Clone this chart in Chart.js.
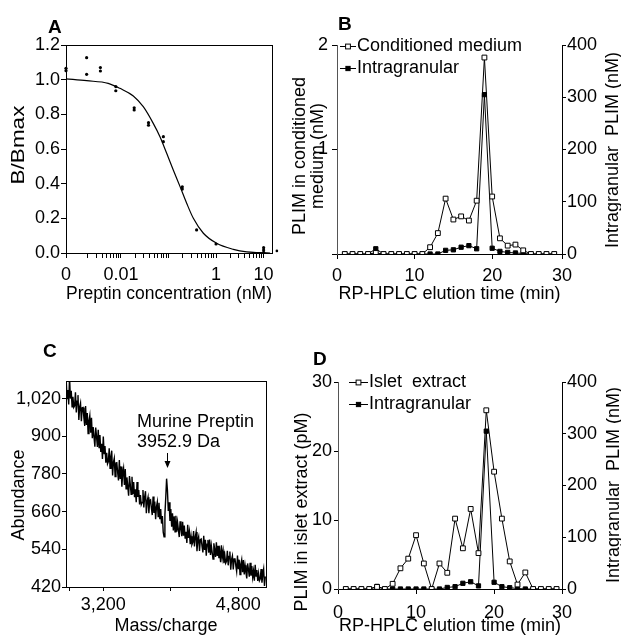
<!DOCTYPE html>
<html>
<head>
<meta charset="utf-8">
<script src="https://cdn.jsdelivr.net/npm/chart.js@4.4.1/dist/chart.umd.min.js"></script>
<style>
  body { margin: 0; background: #fff; }
  #wrap { position: relative; width: 621px; height: 637px; overflow: hidden; font-family: "Liberation Sans", Arial, sans-serif; }
  canvas { position: absolute; }
  .letter { position: absolute; font-weight: bold; font-size: 19px; line-height: 19px; }
</style>
</head>
<body>
<div id="wrap">
  <canvas id="chartA" width="290" height="305" style="left:0;top:0"></canvas>
  <canvas id="chartB" width="333" height="305" style="left:288px;top:0"></canvas>
  <canvas id="chartC" width="290" height="337" style="left:0;top:300px"></canvas>
  <canvas id="chartD" width="333" height="337" style="left:288px;top:300px"></canvas>
  <div class="letter" style="left:48px;top:17px">A</div>
  <div class="letter" style="left:338px;top:14px">B</div>
  <div class="letter" style="left:43px;top:341px">C</div>
  <div class="letter" style="left:313px;top:349px">D</div>
</div>
<script>
// ---- panel A: binding competition ----
const A_CONC = [0.0007, 0.0007, 0.0019, 0.0019, 0.0037, 0.0037, 0.0078, 0.0078, 0.019, 0.019,
  0.038, 0.038, 0.078, 0.078, 0.195, 0.195, 0.39, 1, 10, 10, 10, 19];
const A_BOUND = [1.066, 1.052, 1.127, 1.031, 1.07, 1.05, 0.96, 0.936, 0.838, 0.825,
  0.752, 0.737, 0.671, 0.642, 0.382, 0.369, 0.133, 0.052, 0.031, 0.017, 0.004, 0.012];
const A_FIT_CONC = [0.0007, 0.0019, 0.0054, 0.0095, 0.0182, 0.0295, 0.0478, 0.0662, 0.0916,
  0.126, 0.175, 0.241, 0.333, 0.541, 1.03, 2.31, 4.43, 8.43, 13.7];
const A_FIT_BOUND = [1.005, 0.994, 0.979, 0.95, 0.906, 0.844, 0.748, 0.671, 0.575,
  0.479, 0.383, 0.287, 0.2, 0.114, 0.056, 0.021, 0.006, 0.002, 0.0];
const A_X_TICKS = [0.0007, 0.002, 0.003, 0.004, 0.005, 0.006, 0.007, 0.008, 0.009,
  0.01, 0.02, 0.03, 0.04, 0.05, 0.06, 0.07, 0.08, 0.09,
  0.1, 0.2, 0.3, 0.4, 0.5, 0.6, 0.7, 0.8, 0.9,
  1, 2, 3, 4, 5, 6, 7, 8, 9, 10];
const A_X_LABEL_AT = [0.0007, 0.01, 1, 10];
const A_X_LABEL_TEXT = ['0', '0.01', '1', '10'];
const A_Y_TICKS = [0, 0.2, 0.4, 0.6, 0.8, 1.0, 1.2];

// ---- panel B: conditioned medium HPLC ----
const B_TIME = [1, 2, 3, 4, 5, 6, 7, 8, 9, 10, 11, 12, 13, 14, 15, 16, 17, 18, 19, 20,
  21, 22, 23, 24, 25, 26, 27, 28];
const B_MEDIUM = [0, 0, 0, 0, 0.01, 0, 0, 0, 0, 0, 0, 0.065, 0.2, 0.53, 0.33, 0.36, 0.32, 0.51, 1.88, 0.55,
  0.15, 0.08, 0.09, 0.035, 0, 0, 0, 0];
const B_INTRA = [0, 0, 0, 0, 10, 0, 0, 0, 0, 0, 0, 0, 0, 7, 8, 13, 16, 10, 305, 11,
  5, 3, 2, 1, 0, 0, 0, 0];
const B_X_TICKS = [0, 10, 20, 29];
const B_X_LABELS = ['0', '10', '20', '30'];
const B_Y_TICKS = [0, 1, 2];
const B_Y_LABELS = ['', '1', '2'];
const B_Y2_TICKS = [0, 100, 200, 300, 400];

// ---- panel C: mass spectrum (one value per 10 m/z) ----
const MZ_START = 2760;
const MZ_STEP = 10;
const C_ABUNDANCE = [
  1085, 1020, 1047, 1001, 1090, 1020, 1045, 994, 1026, 992,
  997, 1040, 976, 1012, 1031, 952, 994, 1006, 948, 991,
  992, 959, 933, 996, 936, 974, 909, 950, 966, 911,
  959, 894, 929, 898, 867, 928, 899, 866, 921, 864,
  904, 850, 876, 828, 899, 845, 869, 816, 847, 812,
  819, 862, 798, 835, 854, 775, 817, 830, 772, 815,
  816, 785, 759, 824, 764, 804, 739, 782, 798, 745,
  796, 733, 769, 740, 711, 773, 746, 715, 771, 716,
  754, 706, 731, 690, 754, 707, 729, 683, 713, 682,
  689, 729, 673, 706, 725, 655, 694, 706, 655, 696,
  698, 671, 649, 708, 656, 692, 636, 675, 691, 644,
  688, 636, 668, 622, 646, 595, 580, 650, 705, 765,
  728, 662, 690, 630, 668, 612, 655, 600, 645, 596,
  647, 596, 626, 602, 579, 629, 607, 582, 628, 583,
  616, 574, 596, 560, 618, 576, 596, 556, 582, 555,
  562, 598, 549, 579, 595, 534, 569, 580, 535, 571,
  573, 550, 530, 583, 538, 570, 520, 556, 570, 529,
  571, 522, 552, 530, 509, 559, 539, 516, 562, 519,
  551, 512, 533, 499, 553, 514, 534, 496, 521, 496,
  502, 535, 489, 517, 533, 475, 508, 519, 476, 509,
  511, 488, 470, 520, 477, 507, 460, 493, 507, 467,
  506, 460, 489, 467, 447, 495, 476, 453, 497, 456,
  487, 451, 471, 440, 491, 455, 474, 439, 463, 440,
  446, 477, 434, 461, 477, 423, 454];
const C_X_TICKS = [2800, 3200, 4000, 4800];
const C_X_LABELS = ['', '3,200', '', '4,800'];
const C_Y_TICKS = [420, 540, 660, 780, 900, 1020];
const C_PEAK_MZ = 3952.9;
const C_PEAK_TEXT = ['Murine Preptin', '3952.9 Da'];

// ---- panel D: islet extract HPLC ----
const D_TIME = [1, 2, 3, 4, 5, 6, 7, 8, 9, 10, 11, 12, 13, 14, 15, 16, 17, 18, 19, 20,
  21, 22, 23, 24, 25, 26, 27, 28];
const D_ISLET = [0, 0, 0, 0, 0.3, 0, 0.75, 3.0, 4.4, 7.8, 3.7, 0, 3.7, 2.35, 10.2, 5.9, 11.6, 5.2, 25.9, 17.0,
  10.2, 4.0, 0.65, 2.4, 0, 0, 0, 0];
const D_INTRA = [0, 0, 0, 0, 5, 0, 0, 0, 0, 0, 0, 0, 0, 3, 4.5, 11, 14, 6, 305, 13,
  4.5, 2.5, 1, 0, 0, 0, 0, 0];
const D_X_TICKS = [0, 10, 20, 28.7];
const D_X_LABELS = ['0', '10', '20', '30'];
const D_Y_TICKS = [0, 10, 20, 30];
const D_Y2_TICKS = [0, 100, 200, 300, 400];

const FONT = "'Liberation Sans', Arial, Helvetica, sans-serif";
Chart.defaults.font.family = FONT;
Chart.defaults.font.size = 18;
Chart.defaults.color = '#000';

const pts = (xs, ys) => xs.map((x, i) => ({ x: x, y: ys[i] }));
const fixTicks = list => scale => { scale.ticks = list.map(v => ({ value: v })); };
const tickGrid = len => ({ drawOnChartArea: false, drawTicks: true, tickLength: len, color: '#000', lineWidth: 1 });

// box around plot area
const frame = {
  id: 'frame',
  afterDatasetsDraw(chart) {
    const { ctx, chartArea: a } = chart;
    ctx.save();
    ctx.strokeStyle = '#000';
    ctx.lineWidth = 1;
    ctx.strokeRect(Math.round(a.left) + 0.5, Math.round(a.top) + 0.5,
      Math.round(a.right - a.left), Math.round(a.bottom - a.top));
    ctx.restore();
  }
};

// chart.js skips points past the axis end, the reference shows one there
const strayPoints = {
  id: 'strayPoints',
  afterDatasetsDraw(chart, args, opts) {
    const { ctx, chartArea: a } = chart;
    const meta = chart.getDatasetMeta(opts.dataset);
    ctx.save();
    ctx.fillStyle = '#000';
    meta.data.forEach(p => {
      if (p.x > a.right + 2) {
        ctx.beginPath();
        ctx.arc(p.x, p.y, opts.radius, 0, 2 * Math.PI);
        ctx.fill();
      }
    });
    ctx.restore();
  }
};

// vertical axis titles, read bottom to top
const sideTitles = {
  id: 'sideTitles',
  afterDraw(chart, args, opts) {
    const { ctx, chartArea: a } = chart;
    (opts.items || []).forEach(t => {
      ctx.save();
      ctx.font = (t.size || 18) + 'px ' + FONT;
      ctx.fillStyle = '#000';
      ctx.translate(t.x, t.y != null ? t.y : (a.top + a.bottom) / 2);
      ctx.rotate(-Math.PI / 2);
      if (t.stretch) ctx.scale(t.stretch, 1);
      ctx.textAlign = 'center';
      ctx.textBaseline = 'middle';
      ctx.fillText(t.text, 0, 0);
      ctx.restore();
    });
  }
};

// legend drawn as -[]- marker + label inside the plot
const lineLegend = {
  id: 'lineLegend',
  afterDraw(chart, args, opts) {
    const ctx = chart.ctx;
    chart.data.datasets.forEach((ds, i) => {
      const y = opts.y + i * opts.gap;
      const x = opts.x;
      ctx.save();
      ctx.strokeStyle = '#000';
      ctx.lineWidth = 1;
      ctx.beginPath();
      ctx.moveTo(x, y + 0.5);
      ctx.lineTo(x + opts.len, y + 0.5);
      ctx.stroke();
      const s = ds.pointRadius * Math.SQRT1_2;
      const cx = x + opts.len / 2;
      ctx.fillStyle = ds.pointBackgroundColor;
      ctx.fillRect(cx - s, y + 0.5 - s, 2 * s, 2 * s);
      ctx.strokeRect(cx - s, y + 0.5 - s, 2 * s, 2 * s);
      ctx.fillStyle = '#000';
      ctx.font = '18px ' + FONT;
      ctx.textBaseline = 'middle';
      ctx.textAlign = 'left';
      ctx.fillText(ds.label, x + opts.len + 1, y);
      ctx.restore();
    });
  }
};

// arrow and label over the preptin peak
const peakNote = {
  id: 'peakNote',
  afterDraw(chart, args, opts) {
    const ctx = chart.ctx;
    const px = Math.round(chart.scales.x.getPixelForValue(opts.mz)) + 0.5;
    ctx.save();
    ctx.fillStyle = '#000';
    ctx.strokeStyle = '#000';
    ctx.font = '18px ' + FONT;
    ctx.textBaseline = 'middle';
    opts.lines.forEach((t, i) => ctx.fillText(t, opts.textX, opts.textY + i * 20));
    ctx.lineWidth = 1;
    ctx.beginPath();
    ctx.moveTo(px, opts.arrowTop);
    ctx.lineTo(px, opts.arrowBottom - 5);
    ctx.stroke();
    ctx.beginPath();
    ctx.moveTo(px - 3, opts.arrowBottom - 7);
    ctx.lineTo(px + 3, opts.arrowBottom - 7);
    ctx.lineTo(px, opts.arrowBottom);
    ctx.closePath();
    ctx.fill();
    ctx.restore();
  }
};

const noHover = { legend: { display: false }, tooltip: { enabled: false } };

// ---------- A ----------
new Chart(document.getElementById('chartA'), {
  type: 'scatter',
  data: {
    datasets: [
      { label: 'fit', data: pts(A_FIT_CONC, A_FIT_BOUND), showLine: true, borderColor: '#000',
        borderWidth: 1.2, pointRadius: 0, cubicInterpolationMode: 'monotone' },
      { label: 'B/Bmax', data: pts(A_CONC, A_BOUND), pointRadius: 1.6, backgroundColor: '#000',
        borderColor: '#000', borderWidth: 0, clip: false }
    ]
  },
  options: {
    responsive: false, animation: false,
    layout: { padding: { top: 45, right: 18, left: 0, bottom: 0 } },
    plugins: Object.assign({}, noHover, {
      sideTitles: { items: [{ text: 'B/Bmax', x: 19, y: 145, stretch: 1.25 }] },
      strayPoints: { dataset: 1, radius: 1.3 }
    }),
    scales: {
      x: {
        type: 'logarithmic', min: 0.0007, max: 15,
        afterBuildTicks: fixTicks(A_X_TICKS),
        ticks: { autoSkip: false, maxRotation: 0, padding: 6,
          callback: v => { const i = A_X_LABEL_AT.indexOf(v); return i >= 0 ? A_X_LABEL_TEXT[i] : ''; } },
        grid: tickGrid(5), border: { color: '#000' },
        title: { display: true, text: 'Preptin concentration (nM)', padding: 0 },
        afterFit: s => { s.height = 52; }
      },
      y: {
        min: 0, max: 1.2,
        afterBuildTicks: fixTicks(A_Y_TICKS),
        ticks: { padding: 1, callback: v => v.toFixed(1) },
        grid: tickGrid(5), border: { color: '#000' },
        afterFit: s => { s.width = 66; }
      }
    }
  },
  plugins: [frame, sideTitles, strayPoints]
});

// ---------- B ----------
new Chart(document.getElementById('chartB'), {
  type: 'scatter',
  data: {
    datasets: [
      { label: 'Conditioned medium', data: pts(B_TIME, B_MEDIUM), yAxisID: 'y', showLine: true,
        borderColor: '#000', borderWidth: 1, pointStyle: 'rect', pointRadius: 3.4,
        pointBackgroundColor: '#fff', pointBorderColor: '#000', pointBorderWidth: 1 },
      { label: 'Intragranular', data: pts(B_TIME, B_INTRA), yAxisID: 'y2', showLine: true,
        borderColor: '#000', borderWidth: 1, pointStyle: 'rect', pointRadius: 3,
        pointBackgroundColor: '#000', pointBorderColor: '#000', pointBorderWidth: 1 }
    ]
  },
  options: {
    responsive: false, animation: false,
    layout: { padding: { top: 45, right: 0, left: 0, bottom: 0 } },
    plugins: Object.assign({}, noHover, {
      sideTitles: { items: [
        { text: 'PLIM in conditioned', x: 12, y: 156 },
        { text: 'medium (nM)', x: 30, y: 156 },
        { text: 'Intragranular  PLIM (nM)', x: 325, y: 150 }
      ] },
      lineLegend: { x: 52, y: 46, gap: 22, len: 16 }
    }),
    scales: {
      x: {
        type: 'linear', min: 0, max: 29,
        afterBuildTicks: fixTicks(B_X_TICKS),
        ticks: { autoSkip: false, maxRotation: 0, padding: 6, callback: (v, i) => B_X_LABELS[i] },
        grid: tickGrid(5), border: { color: '#000' },
        title: { display: true, text: 'RP-HPLC elution time (min)', padding: 0 },
        afterFit: s => { s.height = 51; }
      },
      y: {
        position: 'left', min: 0, max: 2,
        afterBuildTicks: fixTicks(B_Y_TICKS),
        ticks: { padding: 4, callback: (v, i) => B_Y_LABELS[i] },
        grid: tickGrid(5), border: { color: '#555', dash: [1, 2] },
        afterFit: s => { s.width = 49; }
      },
      y2: {
        position: 'right', min: 0, max: 400,
        afterBuildTicks: fixTicks(B_Y2_TICKS),
        ticks: { padding: 1 },
        grid: tickGrid(4), border: { color: '#000' },
        afterFit: s => { s.width = 59; }
      }
    }
  },
  plugins: [sideTitles, lineLegend]
});

// ---------- C ----------
new Chart(document.getElementById('chartC'), {
  type: 'line',
  data: {
    datasets: [
      { label: 'Abundance', data: C_ABUNDANCE.map((v, i) => ({ x: MZ_START + i * MZ_STEP, y: v })),
        borderColor: '#000', borderWidth: 1.4, pointRadius: 0, tension: 0 }
    ]
  },
  options: {
    responsive: false, animation: false,
    layout: { padding: { top: 81, right: 24, left: 0, bottom: 0 } },
    plugins: Object.assign({}, noHover, {
      sideTitles: { items: [{ text: 'Abundance', x: 19, y: 195 }] },
      peakNote: { mz: C_PEAK_MZ, lines: C_PEAK_TEXT, textX: 137, textY: 122, arrowTop: 153, arrowBottom: 168 }
    }),
    scales: {
      x: {
        type: 'linear', min: 2758, max: 5128,
        afterBuildTicks: fixTicks(C_X_TICKS),
        ticks: { autoSkip: false, maxRotation: 0, padding: 3, callback: (v, i) => C_X_LABELS[i] },
        grid: tickGrid(4), border: { color: '#000' },
        title: { display: true, text: 'Mass/charge', padding: 0 },
        afterFit: s => { s.height = 50; }
      },
      y: {
        min: 420, max: 1076,
        afterBuildTicks: fixTicks(C_Y_TICKS),
        ticks: { padding: 1, callback: v => v.toLocaleString('en-US') },
        grid: tickGrid(4), border: { color: '#000' },
        afterFit: s => { s.width = 66; }
      }
    }
  },
  plugins: [frame, sideTitles, peakNote]
});

// ---------- D ----------
new Chart(document.getElementById('chartD'), {
  type: 'scatter',
  data: {
    datasets: [
      { label: 'Islet  extract', data: pts(D_TIME, D_ISLET), yAxisID: 'y', showLine: true,
        borderColor: '#000', borderWidth: 1, pointStyle: 'rect', pointRadius: 3.4,
        pointBackgroundColor: '#fff', pointBorderColor: '#000', pointBorderWidth: 1 },
      { label: 'Intragranular', data: pts(D_TIME, D_INTRA), yAxisID: 'y2', showLine: true,
        borderColor: '#000', borderWidth: 1, pointStyle: 'rect', pointRadius: 3,
        pointBackgroundColor: '#000', pointBorderColor: '#000', pointBorderWidth: 1 }
    ]
  },
  options: {
    responsive: false, animation: false,
    layout: { padding: { top: 82, right: 0, left: 0, bottom: 0 } },
    plugins: Object.assign({}, noHover, {
      sideTitles: { items: [
        { text: 'PLIM in islet extract (pM)', x: 14, y: 212 },
        { text: 'Intragranular  PLIM (nM)', x: 326, y: 185 }
      ] },
      lineLegend: { x: 61, y: 82, gap: 22, len: 19 }
    }),
    scales: {
      x: {
        type: 'linear', min: 0, max: 28.7,
        afterBuildTicks: fixTicks(D_X_TICKS),
        ticks: { autoSkip: false, maxRotation: 0, padding: 8, callback: (v, i) => D_X_LABELS[i] },
        grid: tickGrid(5), border: { color: '#000' },
        title: { display: true, text: 'RP-HPLC elution time (min)', padding: 0 },
        afterFit: s => { s.height = 48; }
      },
      y: {
        position: 'left', min: 0, max: 30,
        afterBuildTicks: fixTicks(D_Y_TICKS),
        ticks: { padding: 2 },
        grid: tickGrid(4), border: { color: '#555', dash: [1, 2] },
        afterFit: s => { s.width = 50; }
      },
      y2: {
        position: 'right', min: 0, max: 400,
        afterBuildTicks: fixTicks(D_Y2_TICKS),
        ticks: { padding: 1 },
        grid: tickGrid(4), border: { color: '#000' },
        afterFit: s => { s.width = 59; }
      }
    }
  },
  plugins: [sideTitles, lineLegend]
});
</script>
</body>
</html>
